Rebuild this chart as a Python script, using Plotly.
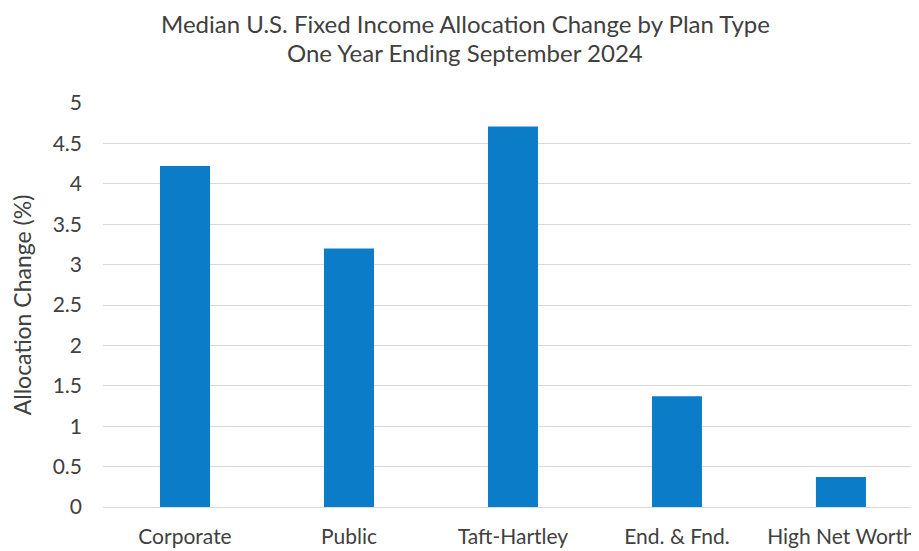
import plotly.graph_objects as go

# Data
plan_types = ["Corporate", "Public", "Taft-Hartley", "End. & Fnd.", "High Net Worth"]
allocation_change = [4.22, 3.2, 4.71, 1.37, 0.37]
y_ticks = [0, 0.5, 1, 1.5, 2, 2.5, 3, 3.5, 4, 4.5, 5]
title_lines = [
    "Median U.S. Fixed Income Allocation Change by Plan Type",
    "One Year Ending September 2024",
]

_BAR_COLOR = "#0b7dc8"
_GRID_COLOR = "#d9d9d9"
_TEXT_COLOR = "#404040"
_FONT = "Lato, 'Open Sans', sans-serif"

fig = go.Figure(go.Bar(
    x=plan_types,
    y=allocation_change,
    marker_color=_BAR_COLOR,
    marker_line_width=0,
    width=0.305,
))

# Two-line title drawn as annotations so it sits exactly where the original does
for text, y in zip(title_lines, [1.196, 1.124]):
    fig.add_annotation(
        text=text,
        xref="paper", yref="paper",
        x=0.444, y=y,
        xanchor="center", yanchor="middle",
        showarrow=False,
        font=dict(size=24, color=_TEXT_COLOR),
    )

# page body has an 8px margin, so the figure is drawn 8px smaller / offset
fig.update_layout(
    width=911,
    height=543,
    paper_bgcolor="white",
    plot_bgcolor="white",
    font=dict(family=_FONT, size=21, color=_TEXT_COLOR),
    margin=dict(t=95, b=44, l=95, r=0, autoexpand=False),
    showlegend=False,
)

fig.update_xaxes(
    range=[-0.5, 4.476],
    showgrid=False,
    showline=True,
    linecolor=_GRID_COLOR,
    linewidth=1,
    ticks="",
    ticklabelstandoff=11,
    tickfont=dict(size=21),
    automargin=False,
)

fig.update_yaxes(
    range=[0, 5],
    tickvals=y_ticks,
    ticktext=[f"{v:g}" for v in y_ticks],
    showgrid=True,
    gridcolor=_GRID_COLOR,
    gridwidth=1,
    zeroline=False,
    ticks="",
    ticklabelstandoff=20,
    tickfont=dict(size=21),
    title=dict(text="Allocation Change (%)", font=dict(size=23), standoff=24),
    automargin=False,
)

fig.write_html("out.html")
